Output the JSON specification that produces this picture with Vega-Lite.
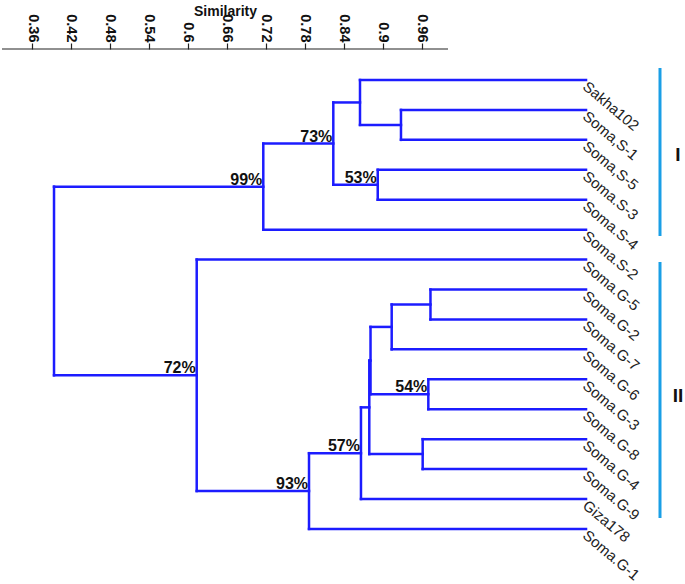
{
  "$schema": "https://vega.github.io/schema/vega-lite/v6.json",
  "autosize": "none",
  "width": 683,
  "height": 535,
  "padding": {"left": 2, "top": 49, "right": 0, "bottom": 0},
  "background": "white",
  "config": {"view": {"stroke": null}, "font": "Liberation Sans"},
  "datasets": {
    "segments": [
      {"sim": 0.3939, "sim2": 0.3939, "pos": 4.5625, "pos2": 10.867},
      {"sim": 0.7161, "sim2": 0.7161, "pos": 3.125, "pos2": 6},
      {"sim": 0.8239, "sim2": 0.8239, "pos": 1.75, "pos2": 4.5},
      {"sim": 0.865, "sim2": 0.865, "pos": 1, "pos2": 2.5},
      {"sim": 0.9281, "sim2": 0.9281, "pos": 2, "pos2": 3},
      {"sim": 0.8923, "sim2": 0.8923, "pos": 4, "pos2": 5},
      {"sim": 0.6136, "sim2": 0.6136, "pos": 7, "pos2": 14.734},
      {"sim": 0.7865, "sim2": 0.7865, "pos": 13.469, "pos2": 16},
      {"sim": 0.8665, "sim2": 0.8665, "pos": 11.938, "pos2": 15},
      {"sim": 0.8793, "sim2": 0.8793, "pos": 10.375, "pos2": 13.5},
      {"sim": 0.8812, "sim2": 0.8812, "pos": 9.25, "pos2": 11.5},
      {"sim": 0.9138, "sim2": 0.9138, "pos": 8.5, "pos2": 10},
      {"sim": 0.9735, "sim2": 0.9735, "pos": 8, "pos2": 9},
      {"sim": 0.9702, "sim2": 0.9702, "pos": 11, "pos2": 12},
      {"sim": 0.9615, "sim2": 0.9615, "pos": 13, "pos2": 14},
      {"sim": 0.3939, "sim2": 0.7161, "pos": 4.5625, "pos2": 4.5625},
      {"sim": 0.3939, "sim2": 0.6136, "pos": 10.867, "pos2": 10.867},
      {"sim": 0.7161, "sim2": 0.8239, "pos": 3.125, "pos2": 3.125},
      {"sim": 0.7161, "sim2": 1.213, "pos": 6, "pos2": 6},
      {"sim": 0.8239, "sim2": 0.865, "pos": 1.75, "pos2": 1.75},
      {"sim": 0.8239, "sim2": 0.8923, "pos": 4.5, "pos2": 4.5},
      {"sim": 0.865, "sim2": 1.213, "pos": 1, "pos2": 1},
      {"sim": 0.865, "sim2": 0.9281, "pos": 2.5, "pos2": 2.5},
      {"sim": 0.9281, "sim2": 1.213, "pos": 2, "pos2": 2},
      {"sim": 0.9281, "sim2": 1.213, "pos": 3, "pos2": 3},
      {"sim": 0.8923, "sim2": 1.213, "pos": 4, "pos2": 4},
      {"sim": 0.8923, "sim2": 1.213, "pos": 5, "pos2": 5},
      {"sim": 0.6136, "sim2": 1.213, "pos": 7, "pos2": 7},
      {"sim": 0.6136, "sim2": 0.7865, "pos": 14.734, "pos2": 14.734},
      {"sim": 0.7865, "sim2": 0.8665, "pos": 13.469, "pos2": 13.469},
      {"sim": 0.7865, "sim2": 1.213, "pos": 16, "pos2": 16},
      {"sim": 0.8665, "sim2": 0.8793, "pos": 11.938, "pos2": 11.938},
      {"sim": 0.8665, "sim2": 1.213, "pos": 15, "pos2": 15},
      {"sim": 0.8793, "sim2": 0.8812, "pos": 10.375, "pos2": 10.375},
      {"sim": 0.8793, "sim2": 0.9615, "pos": 13.5, "pos2": 13.5},
      {"sim": 0.8812, "sim2": 0.9138, "pos": 9.25, "pos2": 9.25},
      {"sim": 0.8812, "sim2": 0.9702, "pos": 11.5, "pos2": 11.5},
      {"sim": 0.9138, "sim2": 0.9735, "pos": 8.5, "pos2": 8.5},
      {"sim": 0.9138, "sim2": 1.213, "pos": 10, "pos2": 10},
      {"sim": 0.9735, "sim2": 1.213, "pos": 8, "pos2": 8},
      {"sim": 0.9735, "sim2": 1.213, "pos": 9, "pos2": 9},
      {"sim": 0.9702, "sim2": 1.213, "pos": 11, "pos2": 11},
      {"sim": 0.9702, "sim2": 1.213, "pos": 12, "pos2": 12},
      {"sim": 0.9615, "sim2": 1.213, "pos": 13, "pos2": 13},
      {"sim": 0.9615, "sim2": 1.213, "pos": 14, "pos2": 14}
    ],
    "nodes": [
      {"label": "99%", "sim": 0.7161, "pos": 4.5625},
      {"label": "73%", "sim": 0.8239, "pos": 3.125},
      {"label": "53%", "sim": 0.8923, "pos": 4.5},
      {"label": "72%", "sim": 0.6136, "pos": 10.867},
      {"label": "93%", "sim": 0.7865, "pos": 14.734},
      {"label": "57%", "sim": 0.8665, "pos": 13.469},
      {"label": "54%", "sim": 0.9702, "pos": 11.5}
    ],
    "leaves": [
      {"name": "Sakha102", "pos": 1},
      {"name": "Soma,S-1", "pos": 2},
      {"name": "Soma,S-5", "pos": 3},
      {"name": "Soma.S-3", "pos": 4},
      {"name": "Soma.S-4", "pos": 5},
      {"name": "Soma.S-2", "pos": 6},
      {"name": "Soma.G-5", "pos": 7},
      {"name": "Soma.G-2", "pos": 8},
      {"name": "Soma.G-7", "pos": 9},
      {"name": "Soma.G-6", "pos": 10},
      {"name": "Soma.G-3", "pos": 11},
      {"name": "Soma.G-8", "pos": 12},
      {"name": "Soma.G-4", "pos": 13},
      {"name": "Soma.G-9", "pos": 14},
      {"name": "Giza178", "pos": 15},
      {"name": "Soma.G-1", "pos": 16}
    ],
    "groups": [
      {"group": "I", "pos": 0.599, "pos2": 6.212, "mid": 3.506},
      {"group": "II", "pos": 7.08, "pos2": 15.634, "mid": 11.558}
    ],
    "axisline": [{"axis": "Similarity"}]
  },
  "layer": [
    {
      "data": {"name": "segments"},
      "mark": {"type": "rule", "color": "#1c1cff", "strokeWidth": 2.5, "strokeCap": "square"},
      "encoding": {
        "x": {"field": "sim", "type": "quantitative", "scale": {"domain": [0.31381, 1.36539], "nice": false, "zero": false},
          "axis": {"orient": "top", "title": "Similarity", "values": [0.36, 0.42, 0.48, 0.54, 0.6, 0.66, 0.72, 0.78, 0.84, 0.9, 0.96], "format": "~g",
            "labelAngle": 90, "labelAlign": "right", "labelBaseline": "middle", "labelFont": "Liberation Sans", "labelFontSize": 14.5, "labelFontWeight": "bold",
            "labelColor": "#111111", "labelPadding": 1, "labelOverlap": false, "labelFlush": false, "labelBound": false,
            "tickSize": 6, "tickColor": "#222222", "tickWidth": 1.2, "domain": false, "grid": false,
            "titleFont": "Liberation Sans", "titleFontSize": 14, "titleFontWeight": "bold", "titleColor": "#111111",
            "titleX": 223, "titleY": -34, "titleAlign": "center", "titleBaseline": "alphabetic", "titleAngle": 0}},
        "x2": {"field": "sim2"},
        "y": {"field": "pos", "type": "quantitative", "scale": {"domain": [-0.036, 17.84], "reverse": true, "nice": false, "zero": false}, "axis": null},
        "y2": {"field": "pos2"}
      }
    },
    {
      "data": {"name": "axisline"},
      "mark": {"type": "rule", "color": "#222222", "strokeWidth": 1.2},
      "encoding": {
        "x": {"datum": 0.31381, "type": "quantitative", "scale": {"domain": [0.31381, 1.36539], "nice": false, "zero": false}},
        "x2": {"datum": 1.0005},
        "y": {"datum": -0.036, "type": "quantitative", "scale": {"domain": [-0.036, 17.84], "reverse": true, "nice": false, "zero": false}, "axis": null}
      }
    },
    {
      "data": {"name": "nodes"},
      "mark": {"type": "text", "align": "right", "baseline": "alphabetic", "dx": -1, "dy": -2, "font": "Liberation Sans", "fontSize": 16, "fontWeight": "bold", "color": "#111111"},
      "encoding": {
        "x": {"field": "sim", "type": "quantitative", "scale": {"domain": [0.31381, 1.36539], "nice": false, "zero": false}},
        "y": {"field": "pos", "type": "quantitative", "scale": {"domain": [-0.036, 17.84], "reverse": true, "nice": false, "zero": false}, "axis": null},
        "text": {"field": "label"}
      }
    },
    {
      "data": {"name": "leaves"},
      "mark": {"type": "text", "align": "left", "baseline": "top", "angle": 40, "dx": 2, "dy": -3, "font": "Liberation Sans", "fontSize": 15, "color": "#222222"},
      "encoding": {
        "x": {"datum": 1.213, "type": "quantitative", "scale": {"domain": [0.31381, 1.36539], "nice": false, "zero": false}},
        "y": {"field": "pos", "type": "quantitative", "scale": {"domain": [-0.036, 17.84], "reverse": true, "nice": false, "zero": false}, "axis": null},
        "text": {"field": "name"}
      }
    },
    {
      "data": {"name": "groups"},
      "mark": {"type": "rule", "color": "#1a9fe6", "strokeWidth": 3},
      "encoding": {
        "x": {"datum": 1.3269, "type": "quantitative", "scale": {"domain": [0.31381, 1.36539], "nice": false, "zero": false}},
        "y": {"field": "pos", "type": "quantitative", "scale": {"domain": [-0.036, 17.84], "reverse": true, "nice": false, "zero": false}, "axis": null},
        "y2": {"field": "pos2"}
      }
    },
    {
      "data": {"name": "groups"},
      "mark": {"type": "text", "align": "center", "baseline": "middle", "font": "Liberation Sans", "fontSize": 19, "fontWeight": "bold", "color": "#111111"},
      "encoding": {
        "x": {"datum": 1.3546, "type": "quantitative", "scale": {"domain": [0.31381, 1.36539], "nice": false, "zero": false}},
        "y": {"field": "mid", "type": "quantitative", "scale": {"domain": [-0.036, 17.84], "reverse": true, "nice": false, "zero": false}, "axis": null},
        "text": {"field": "group"}
      }
    }
  ]
}
